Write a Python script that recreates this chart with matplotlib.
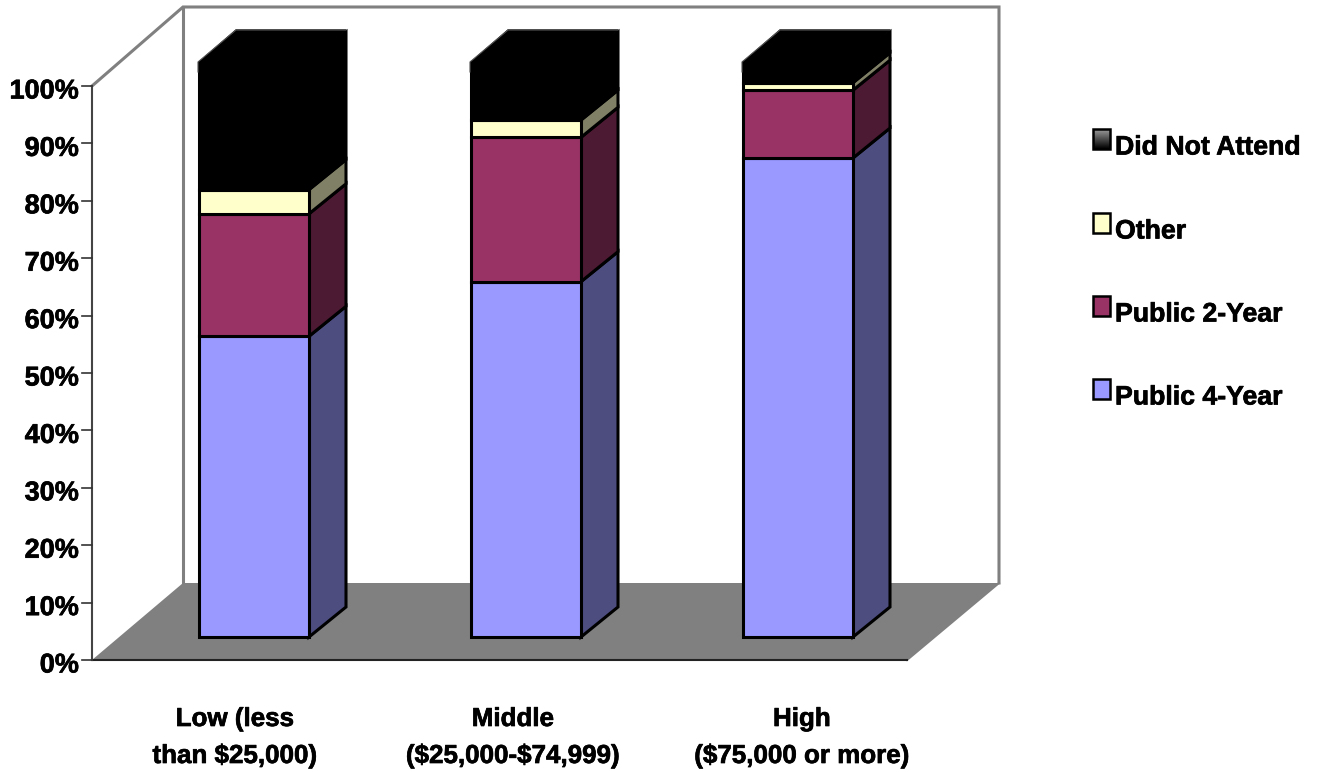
import matplotlib.pyplot as plt
import matplotlib.patheffects as pe
import numpy as np
from matplotlib.patches import Polygon, Rectangle

plt.rcParams['font.family'] = ['Liberation Sans', 'DejaVu Sans']
plt.rcParams['text.parse_math'] = False

# Values in percent
categories = ['Low (less\nthan $25,000)', 'Middle\n($25,000-$74,999)', 'High\n($75,000 or more)']
public_4yr = [52.3, 61.8, 83.3]
public_2yr = [21.3, 25.1, 11.8]
other = [4.2, 3.0, 1.3]
did_not_attend = [22.2, 10.1, 3.6]
series = [public_4yr, public_2yr, other, did_not_attend]
series_names = ['Public 4-Year', 'Public 2-Year', 'Other', 'Did Not Attend']
yticks = list(range(0, 101, 10))

front_cols = ['#9999ff', '#993366', '#ffffcc', '#000000']
side_cols = ['#4d4d80', '#4d1a33', '#808066', '#000000']
grey = '#808080'

W, H = 1317, 772
fig = plt.figure(figsize=(W / 100, H / 100), dpi=100)
ax = fig.add_axes([0, 0, 1, 1])

# pixel layout of the fake 3D box
ax0, ay0, ay100 = 92, 660, 86
bx, bdy, btop = 183, 583, 7
rx_back, rx_front = 999, 907
bar_y0, bar_y100 = 637, 62
bar_left = [199, 471, 743]
label_x = [235, 513, 802]
bar_w = 110
dx, side_dy, top_dy = 37, -30, -32
bold = [pe.withStroke(linewidth=0.5, foreground='black')]

def bar_y(v):
    return bar_y0 + (bar_y100 - bar_y0) * v / 100

# walls and floor
ax.add_patch(Polygon([(ax0, ay0), (bx, bdy), (rx_back, bdy), (rx_front, ay0)], fc=grey, ec='none', zorder=1))
ax.plot([ax0, bx, rx_back, rx_back], [ay100, btop, btop, bdy], color=grey, lw=2.2, zorder=1, solid_joinstyle='miter')
ax.plot([bx, bx], [btop, bdy], color=grey, lw=2.2, zorder=1)
ax.plot([rx_back, rx_front], [bdy, ay0], color=grey, lw=1.5, zorder=1)
ax.plot([ax0, rx_front], [ay0, ay0], color='#222222', lw=1.5, zorder=2)
ax.plot([ax0, ax0], [ay100, ay0], color='#444444', lw=1.5, zorder=2)

# y axis ticks
for t in yticks:
    y = ay0 + (ay100 - ay0) * t / 100
    ax.plot([ax0 - 10, ax0], [y, y], color='#333333', lw=1.2, zorder=2)
    ax.text(79, y + 5.5, f'{t}%', ha='right', va='center', fontsize=19.5, fontweight='bold',
            color='black', path_effects=bold)

# stacked bars
for i, left in enumerate(bar_left):
    base = 0
    right = left + bar_w
    for s, vals in enumerate(series):
        top = base + vals[i]
        y1, y2 = bar_y(base), bar_y(top)
        ax.add_patch(Polygon([(right, y1), (right + dx, y1 + side_dy), (right + dx, y2 + side_dy), (right, y2)],
                             fc=side_cols[s], ec='black', lw=2.2, joinstyle='miter', zorder=3))
        ax.add_patch(Rectangle((left, y2), bar_w, y1 - y2, fc=front_cols[s], ec='black', lw=2.2, zorder=4))
        base = top
    ytop = bar_y(base)
    ax.add_patch(Polygon([(left, ytop), (left + dx, ytop + top_dy), (right + dx, ytop + top_dy), (right, ytop)],
                         fc='black', ec='black', lw=1, zorder=4))
    # thin grey rim along the top outline
    ax.plot([left - 1, left - 1, left + dx, right + dx], [ytop + 10, ytop, ytop + top_dy, ytop + top_dy],
            color='#555555', lw=0.8, zorder=5)

# category labels
for xc, name in zip(label_x, categories):
    l1, l2 = name.split('\n')
    ax.text(xc, 719, l1, ha='center', va='center', fontsize=18.7, fontweight='bold', path_effects=bold)
    ax.text(xc, 756, l2, ha='center', va='center', fontsize=18.7, fontweight='bold', path_effects=bold)

# legend
legend_top = [379, 296, 213, 129]
for name, col, y in zip(series_names, front_cols, legend_top):
    if name == 'Did Not Attend':
        grad = np.linspace(0.6, 0, 20).reshape(-1, 1)
        ax.imshow(grad, cmap='gray', vmin=0, vmax=1, extent=(1093, 1110, y + 20, y), aspect='auto', zorder=3)
        ax.add_patch(Rectangle((1093, y), 17, 20, fc='none', ec='black', lw=1.8, zorder=4))
    else:
        ax.add_patch(Rectangle((1093, y), 17, 20, fc=col, ec='black', lw=1.8, zorder=3))
    ax.text(1115, y + 18.5, name, ha='left', va='center', fontsize=19.2, fontweight='bold', path_effects=bold)

ax.set_xlim(0, W)
ax.set_ylim(H, 0)
ax.axis('off')

fig.savefig('out.png', dpi=100)
